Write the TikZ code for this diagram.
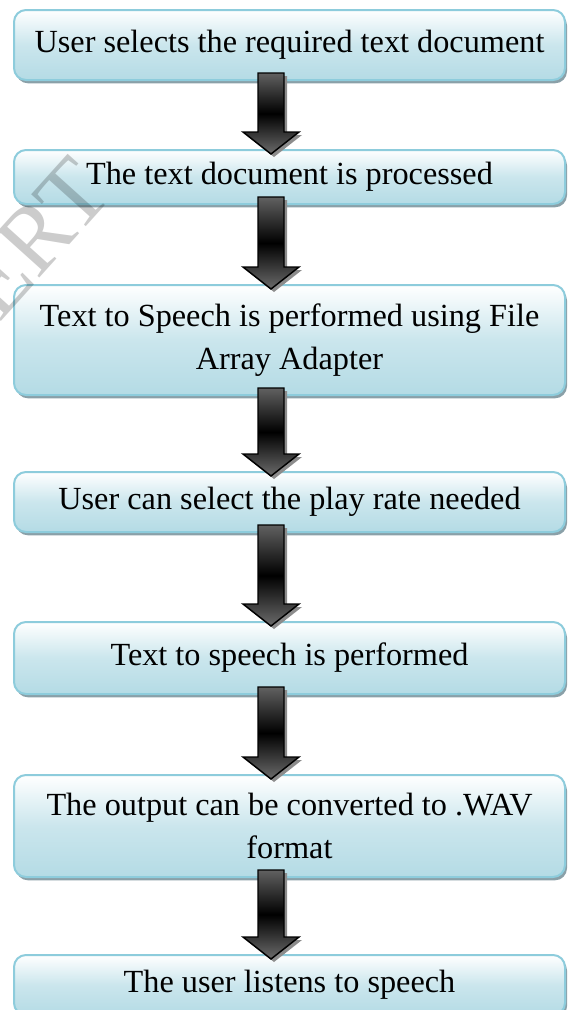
\documentclass[tikz,border=0pt]{standalone}
\usepackage{fontspec}
\setmainfont{Liberation Serif}
\usetikzlibrary{calc,shadows}
\definecolor{boxline}{RGB}{141,204,220}
\definecolor{boxbot}{RGB}{180,219,229}
\definecolor{boxshadow}{RGB}{138,160,168}
\definecolor{arrshadow}{RGB}{140,140,140}
\tikzset{
  flowbox/.style={draw=boxline, line width=1.5pt, rounded corners=9pt,
    top color=white, bottom color=boxbot, middle color=boxbot!70!white,
    inner sep=0pt, align=center, minimum width=413.25pt,
    font=\fontsize{24.2}{32.3}\selectfont,
    drop shadow={shadow xshift=1.5pt, shadow yshift=-2.5pt, fill=boxshadow, opacity=1}},
  arrowbody/.style={draw=black, line width=1.1pt, line join=miter,
    top color=black!62, bottom color=black!58, middle color=black},
  arrowshade/.style={fill=arrshadow},
  watermark/.style={text=black, opacity=0.2, font=\fontsize{71}{71}\selectfont}
}
\newcommand{\flowarrow}[2]{%
  \coordinate (s) at ($(#1.south -| ax)+(0,-8)$);
  \coordinate (t) at ($(#2.north -| ax)+(0,5)$);
  \coordinate (h) at ($(t)+(0,-22)$);
  \fill[arrowshade] ($(s)+(-10,3)$) -- ($(s)+(16,3)$) -- ($(h)+(16,3)$) -- ($(h)+(31,3)$) -- ($(t)+(3,3)$) -- ($(h)+(-25,3)$) -- ($(h)+(-10,3)$) -- cycle;
  \draw[arrowbody] ($(s)+(-13,0)$) -- ($(s)+(13,0)$) -- ($(h)+(13,0)$) -- ($(h)+(28,0)$) -- (t) -- ($(h)+(-28,0)$) -- ($(h)+(-13,0)$) -- cycle;
}
\begin{document}
\begin{tikzpicture}[x=0.75pt,y=-0.75pt]
\useasboundingbox (0,0) rectangle (568,1010);
\coordinate (ax) at (271,0);
\node[flowbox, minimum height=52.5pt] (b1) at (289.5,45) {User selects the required text document};
\node[flowbox, minimum height=40.5pt] (b2) at (289.5,177) {The text document is processed};
\node[flowbox, minimum height=82.5pt] (b3) at (289.5,340) {Text to Speech is performed using File\\Array Adapter};
\node[flowbox, minimum height=45pt] (b4) at (289.5,502) {User can select the play rate needed};
\node[flowbox, minimum height=54pt] (b5) at (289.5,658) {Text to speech is performed};
\node[flowbox, minimum height=76.5pt] (b6) at (289.5,826) {The output can be converted to .WAV\\format};
\node[flowbox, minimum height=45pt] (b7) at (289.5,985) {The user listens to speech};
\flowarrow{b1}{b2}
\flowarrow{b2}{b3}
\flowarrow{b3}{b4}
\flowarrow{b4}{b5}
\flowarrow{b5}{b6}
\flowarrow{b6}{b7}
\node[watermark, rotate=48] (wm) at (34,238) {ERT};
\end{tikzpicture}
\end{document}
